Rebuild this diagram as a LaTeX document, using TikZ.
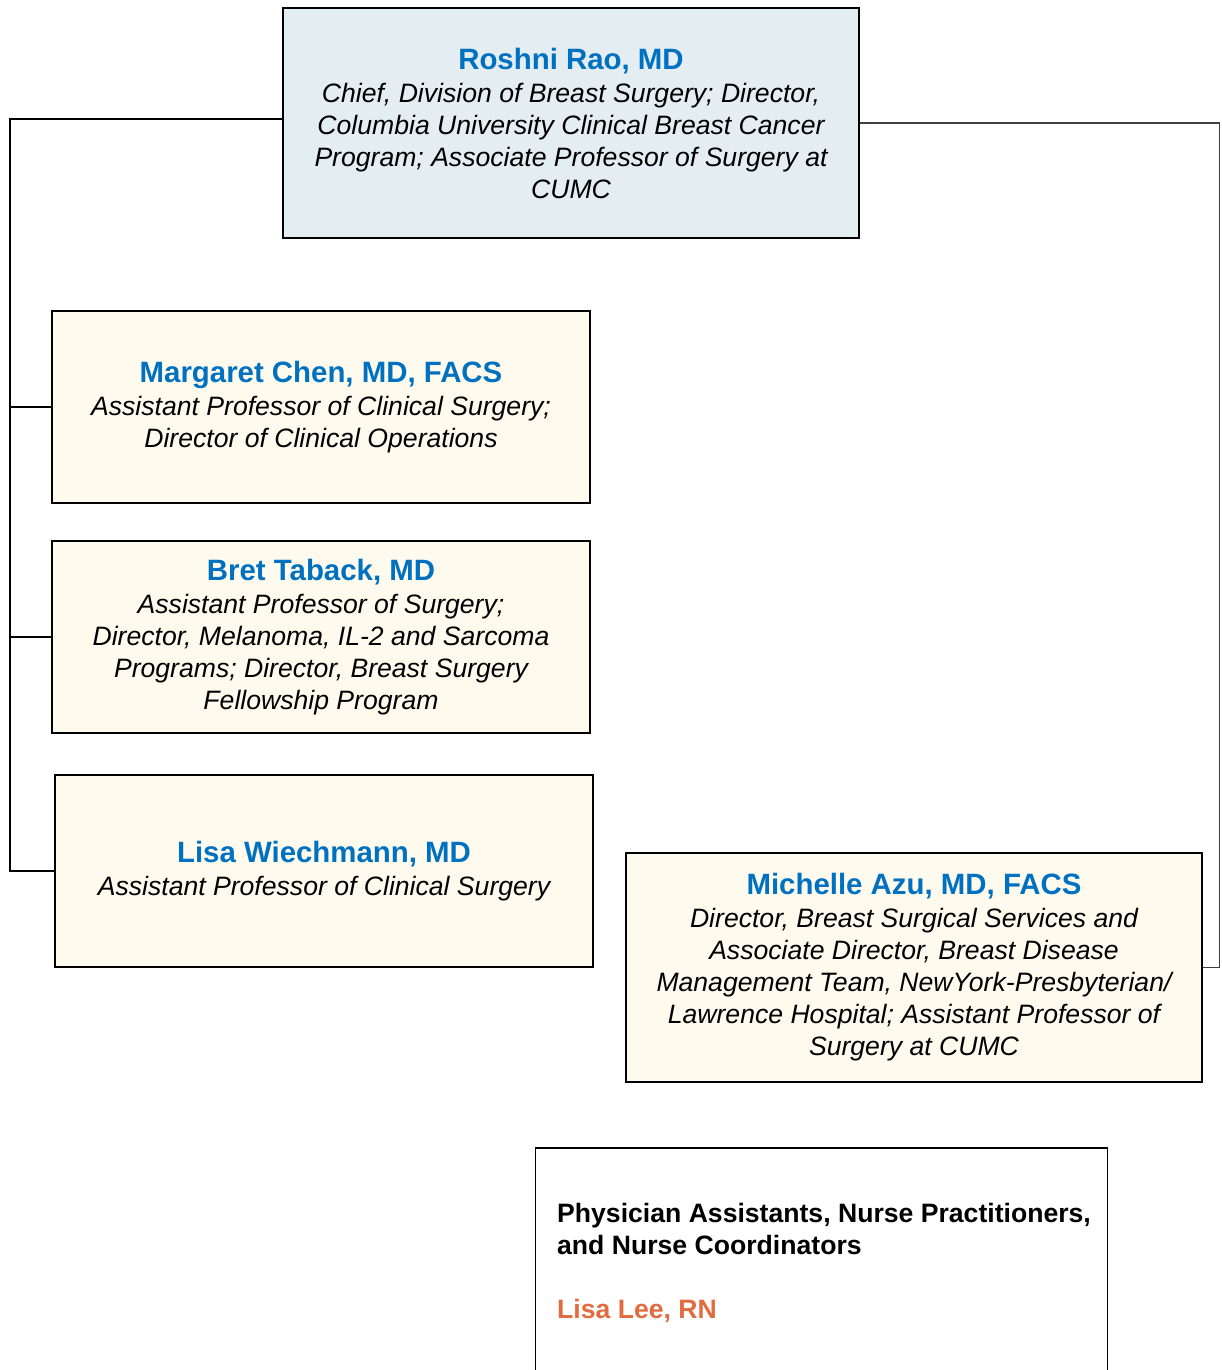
\documentclass[tikz,border=0pt]{standalone}
\usepackage{fontspec}
\setmainfont{Liberation Sans}
\definecolor{nameblue}{RGB}{0,112,192}
\definecolor{leeorange}{RGB}{226,107,64}
\definecolor{topfill}{RGB}{227,237,242}
\definecolor{memfill}{RGB}{254,251,238}
\newcommand\pname[1]{{\fontsize{29.4}{32}\selectfont\bfseries\upshape\color{nameblue}#1}}
\begin{document}
\begin{tikzpicture}[x=1pt,y=-1pt,
  box/.style={draw=black, line width=1.5pt, align=center, inner sep=0pt,
    font=\fontsize{26.6}{32}\selectfont\itshape},
  chief/.style={box, fill=topfill},
  member/.style={box, fill=memfill},
  conn/.style={draw=black, line width=1.8pt},
  rconn/.style={draw=black!75, line width=1.3pt}]
\useasboundingbox (0,0) rectangle (1221,1370);
\clip (0,0) rectangle (1221,1370);

\node[chief, minimum width=576, minimum height=230] (rao) at (571,123)
  {\pname{Roshni Rao, MD}\\[1pt]
   Chief, Division of Breast Surgery; Director,\\
   Columbia University Clinical Breast Cancer\\
   Program; Associate Professor of Surgery at\\
   CUMC};

\node[member, minimum width=538, minimum height=192] (chen) at (321,407)
  {\pname{Margaret Chen, MD, FACS}\\[1pt]
   Assistant Professor of Clinical Surgery;\\
   Director of Clinical Operations};

\node[member, minimum width=538, minimum height=192] (taback) at (321,637)
  {\pname{Bret Taback, MD}\\[1pt]
   Assistant Professor of Surgery;\\
   Director, Melanoma, IL-2 and Sarcoma\\
   Programs; Director, Breast Surgery\\
   Fellowship Program};

\node[member, minimum width=538, minimum height=192] (wiechmann) at (324,871)
  {\pname{Lisa Wiechmann, MD}\\[1pt]
   Assistant Professor of Clinical Surgery};

\node[member, minimum width=576, minimum height=229] (azu) at (914,967.5)
  {\pname{Michelle Azu, MD, FACS}\\[1pt]
   Director, Breast Surgical Services and\\
   Associate Director, Breast Disease\\
   Management Team, NewYork-Presbyterian/\\
   Lawrence Hospital; Assistant Professor of\\
   Surgery at CUMC};

\node[draw=black, line width=1.5pt, fill=white, minimum width=572, minimum height=260,
  anchor=north west, inner sep=0pt] (staff) at (534.5,1147) {};
\node[anchor=north west, align=left, inner sep=0pt,
  font=\fontsize{26.6}{32}\selectfont\bfseries] (stafftext) at (557,1203)
  {Physician Assistants, Nurse Practitioners,\\
   and Nurse Coordinators\\[32pt]
   \textcolor{leeorange}{Lisa Lee, RN}};

% left connectors
\coordinate (ltop) at (10,119);
\coordinate (lbot) at (10,871);
\draw[conn] ([yshift=4pt]rao.west) -- (ltop) -- (lbot) -- (wiechmann.west);
\draw[conn] (ltop |- chen.west) -- (chen.west);
\draw[conn] (ltop |- taback.west) -- (taback.west);

% right connector
\coordinate (rtop) at (1219.5,123);
\draw[rconn] (rao.east) -- (rtop) -- (rtop |- azu.east) -- (azu.east);
\end{tikzpicture}
\end{document}
